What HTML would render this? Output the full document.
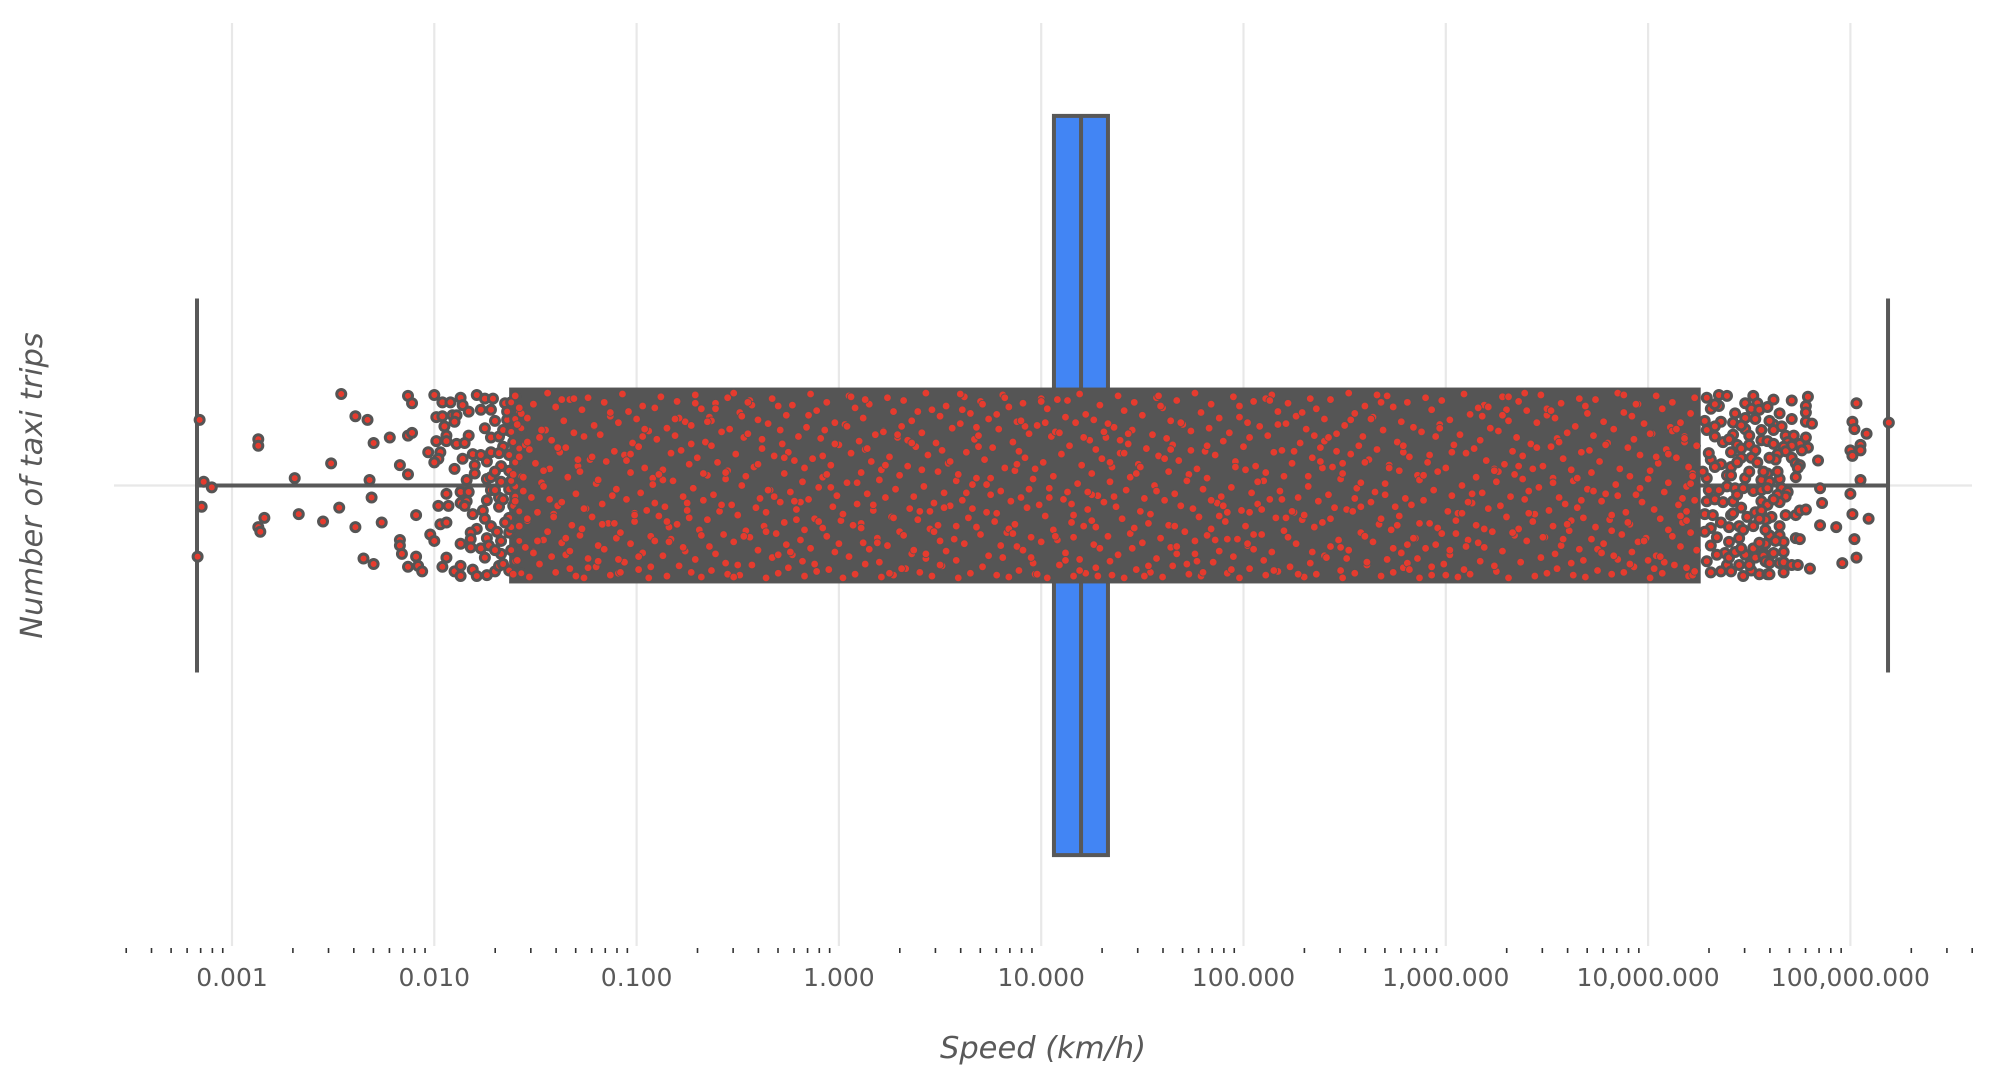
<!DOCTYPE html>
<html>
<head>
<meta charset="utf-8">
<title>Speed (km/h) box plot</title>
<style>
html,body{margin:0;padding:0;background:#fff;}
svg{display:block;}
text{font-family:"DejaVu Sans",sans-serif;fill:#595959;}
</style>
</head>
<body>
<svg id="chart" xmlns="http://www.w3.org/2000/svg" width="1996" height="1084" viewBox="0 0 1996 1084">
<rect x="0" y="0" width="1996" height="1084" fill="#ffffff"/>
<g id="grid"></g>
<g id="box"></g>
<g id="strip"></g>
<g id="axis"></g>
<text x="1043" y="1058" font-size="30.5" font-style="italic" text-anchor="middle">Speed (km/h)</text>
<text transform="translate(42,485.5) rotate(-90)" font-size="30.5" font-style="italic" text-anchor="middle">Number of taxi trips</text>
</svg>
<script>
const tickExponents = [-3,-2,-1,0,1,2,3,4,5];
const tickLabels = ["0.001","0.010","0.100","1.000","10.000","100.000","1,000.000","10,000.000","100,000.000"];
const minorMultipliers = [2,3,4,5,6,7,8,9];
const axisLimitsLog10 = [-3.53,5.61];

const whiskerLowLog10 = [-3.173];
const q1Log10 = [1.063];
const medianLog10 = [1.197];
const q3Log10 = [1.33];
const whiskerHighLog10 = [5.186];

const denseExtentLog10 = [-1.63,4.26];
const denseExtentJitter = [-106,106];

const tailSpeedLog10 = [
-3.16,-3.14,-3.10,-3.15,-3.17,-2.87,-2.87,-2.84,-2.87,-2.86,-2.69,-2.67,-2.55,-2.51,-2.47,-2.39,-2.35,-2.46,-2.39,-2.33,
-2.30,-2.32,-2.31,-2.30,-2.13,-2.11,-2.22,-2.13,-2.11,-2.17,-2.13,-2.09,-2.26,-2.17,-2.17,-2.16,-2.09,-2.13,-2.08,-2.06,
-2.00,-1.96,-1.92,-1.87,-1.86,-1.83,-1.77,-1.79,-1.75,-1.71,-1.72,-1.99,-1.96,-1.91,-1.89,-1.90,-1.95,-1.75,-1.94,-1.94,
-1.99,-1.83,-1.89,-1.85,-2.03,-1.97,-1.98,-2.00,-1.90,-1.86,-1.81,-1.77,-1.74,-1.72,-1.72,-1.68,-1.80,-1.80,-1.84,-1.74,
-1.72,-1.67,-1.67,-1.63,-1.94,-1.87,-1.83,-1.72,-1.98,-1.93,-1.87,-1.84,-1.85,-1.74,-1.76,-1.81,-1.75,-1.68,-1.68,-1.97,
-1.94,-2.02,-2.00,-1.87,-1.79,-1.82,-1.82,-1.82,-1.77,-1.74,-1.73,-1.72,-1.69,-1.75,-1.94,-1.96,-1.90,-1.87,-1.87,-1.81,
-1.79,-1.74,-1.70,-1.67,-1.68,-1.63,-1.67,-1.63,-1.63,-1.61,-1.63,-1.60,-1.64,-1.65,-1.64,-1.66,-1.63,-1.61,-1.64,-1.60,
4.35,4.39,4.29,4.52,4.48,4.54,4.35,4.31,4.43,4.51,4.55,4.48,4.53,4.36,4.33,4.29,4.48,4.42,4.50,4.37,
4.33,4.56,4.44,4.50,4.53,4.46,4.41,4.46,4.51,4.54,4.31,4.36,4.33,4.41,4.39,4.41,4.29,4.48,4.56,4.39,
4.43,4.52,4.47,4.56,4.29,4.33,4.37,4.42,4.46,4.56,4.53,4.28,4.32,4.41,4.49,4.59,4.36,4.45,4.52,4.31,
4.34,4.40,4.45,4.31,4.58,4.38,4.52,4.48,4.53,4.57,4.31,4.39,4.45,4.36,4.41,4.47,4.55,4.51,4.59,4.59,
4.62,4.59,4.71,4.79,4.78,4.78,4.78,4.81,5.03,5.01,5.02,5.08,5.19,4.65,4.71,4.62,4.66,4.62,4.68,4.72,
4.59,4.69,4.75,4.78,4.71,4.67,4.79,4.76,4.68,4.64,4.63,4.71,4.73,4.75,4.74,4.84,5.00,5.05,5.05,5.01,
4.73,5.05,4.85,5.00,4.86,4.59,4.65,4.60,4.59,4.66,4.69,4.68,4.64,4.65,4.59,4.56,4.61,4.58,4.68,4.73,
4.75,4.78,4.65,4.60,4.65,4.67,4.58,4.73,4.75,4.67,4.62,4.57,4.58,4.65,4.67,4.71,4.74,4.60,4.67,4.80,
4.85,4.93,5.01,5.09,5.02,5.03,4.96,
-1.70,-1.66,-1.70,-1.62,-1.68,-1.60,-1.62,-1.58,-1.58,-1.57,-1.70,-1.66,-1.60,-1.58,-1.62,-1.65,-1.70,-1.66,-1.62,-1.58,-1.60,-1.57,-1.60,-1.62,-1.57,
4.28,4.30,4.27,4.30,4.28,4.33,4.29,4.34,4.35,4.42,4.40,4.46,4.44,4.50,4.44,4.40,4.42,4.47,4.40,4.43,4.46,4.50,4.55,4.60,4.60,4.57,4.62,4.58,4.55,4.62,4.63,4.60,4.56,4.64
];
const tailJitter = [
-71,-4,2,23,77,-50,-43,35,45,50,-8,31,39,-24,24,45,79,-99,-75,-71,
-46,-6,13,85,-97,-89,-52,-54,-57,-22,-12,32,40,59,65,74,77,88,87,93,
-98,-90,-90,-95,-87,-80,-82,-98,-94,-94,-82,-74,-75,-76,-76,-69,-64,-62,-54,-48,
-48,-54,-45,-46,-36,-36,-29,-25,-18,-29,-34,-33,-26,-36,-52,-53,-22,-13,-6,-7,
-9,-21,-4,-16,9,7,7,5,22,22,19,17,22,16,27,31,36,13,23,42,
40,53,60,63,47,51,58,67,68,57,65,44,50,78,78,88,93,87,98,91,
98,97,93,74,87,92,60,51,35,22,4,1,-71,-89,-80,-42,-33,-47,-60,-96,
-98,-97,-95,-97,-89,-89,-86,-83,-78,-83,-82,-73,-72,-69,-64,-60,-61,-55,-54,-47,
-53,-49,-44,-44,-38,-40,-36,-30,-30,-25,-28,-23,-20,-20,-11,-11,-8,-8,-6,1,
3,6,3,5,17,15,18,17,24,17,29,31,32,32,34,36,40,44,44,46,
56,61,57,65,63,73,68,75,78,73,94,86,86,93,93,98,96,92,96,83,
-93,-85,-92,-96,-86,-79,-69,-67,-89,-69,-61,-56,-68,-78,-72,-66,-64,-60,-54,-54,
-48,-47,-45,-52,-43,-42,-41,-38,-37,-34,-28,-30,-24,-22,-19,-27,-38,-44,-38,-32,
-9,-6,3,9,19,-13,-7,-4,3,3,7,12,10,18,21,27,34,37,32,32,
27,26,44,54,54,61,63,57,58,72,73,76,82,84,83,86,86,96,94,90,
43,45,31,36,58,78,84,
-70,-60,-15,-58,-35,-25,-5,-80,-40,-10,5,15,12,28,45,40,70,85,70,60,82,95,-72,-90,-62,
-70,-35,-15,5,50,-88,82,75,5,-68,-50,-65,-25,-15,10,45,30,48,78,72,68,86,62,-70,-30,-15,-45,48,36,15,60,84,-60,-15
];

const denseSpeedLog10 = [
-1.60,-1.57,-1.59,-1.55,-1.58,-1.61,-1.56,-1.60,-1.54,-1.58,-1.55,-1.59,-1.61,
-1.51,-1.54,-1.48,-1.53,-1.50,-1.47,-1.52,-1.49,-1.54,-1.46,-1.51,-1.48,-1.53,
-1.44,-1.40,-1.45,-1.42,-1.38,-1.43,-1.46,-1.39,-1.41,-1.44,-1.37,-1.42,-1.40,
-1.33,-1.36,-1.31,-1.35,-1.29,-1.34,-1.30,-1.37,-1.32,-1.28,-1.35,-1.33,-1.30,
-1.24,-1.27,-1.21,-1.26,-1.23,-1.28,-1.20,-1.25,-1.22,-1.27,-1.19,-1.24,-1.26,
-1.16,-1.13,-1.18,-1.11,-1.15,-1.19,-1.12,-1.17,-1.14,-1.10,-1.16,-1.20,-1.13,
-1.07,-1.04,-1.09,-1.02,-1.06,-1.03,-1.10,-1.05,-1.01,-1.08,-1.03,-1.06,-1.09,
-.97,-1.00,-.94,-.99,-.96,-.92,-.98,-.95,-1.01,-.93,-.97,-.99,-.94,
-.88,-.91,-.85,-.90,-.83,-.87,-.92,-.86,-.89,-.84,-.91,-.87,-.85,
-.80,-.76,-.81,-.78,-.74,-.82,-.77,-.75,-.80,-.83,-.76,-.79,-.73,
-.71,-.68,-.73,-.66,-.70,-.65,-.72,-.67,-.74,-.69,-.64,-.71,-.68,
-.61,-.64,-.58,-.63,-.60,-.56,-.62,-.59,-.65,-.57,-.61,-.63,-.55,
-.52,-.49,-.54,-.47,-.51,-.55,-.48,-.53,-.50,-.46,-.52,-.56,-.49,
-.44,-.40,-.45,-.38,-.42,-.46,-.39,-.41,-.37,-.44,-.40,-.43,-.36,
-.33,-.30,-.35,-.28,-.32,-.27,-.34,-.29,-.36,-.31,-.26,-.33,-.30,
-.23,-.26,-.20,-.25,-.22,-.18,-.24,-.21,-.27,-.19,-.23,-.25,-.17,
-.14,-.11,-.16,-.09,-.13,-.17,-.10,-.15,-.12,-.08,-.14,-.18,-.11,
-.06,-.02,-.07,0,-.04,-.08,-.01,-.03,.01,-.06,-.02,-.05,.02,
.05,.08,.03,.10,.06,.11,.04,.09,.02,.07,.12,.05,.08,
.15,.12,.18,.13,.16,.20,.14,.17,.11,.19,.15,.13,.21,
.24,.27,.22,.29,.25,.21,.28,.23,.26,.30,.24,.20,.27,
.32,.36,.31,.38,.34,.30,.37,.35,.39,.32,.36,.33,.40,
.43,.46,.41,.48,.44,.49,.42,.47,.40,.45,.50,.43,.46,
.53,.50,.56,.51,.54,.58,.52,.55,.49,.57,.53,.51,.59,
.62,.65,.60,.67,.63,.59,.66,.61,.64,.68,.62,.58,.65,
.70,.74,.69,.76,.72,.68,.75,.73,.77,.70,.74,.71,.78,
.81,.84,.79,.86,.82,.87,.80,.85,.78,.83,.88,.81,.84,
.91,.88,.94,.89,.92,.96,.90,.93,.87,.95,.91,.89,.97,
1.00,1.03,.98,1.05,1.01,.97,1.04,.99,1.02,1.06,1.00,.96,1.03,
1.08,1.12,1.07,1.14,1.10,1.06,1.13,1.11,1.15,1.08,1.12,1.09,1.16,
1.19,1.22,1.17,1.24,1.20,1.25,1.18,1.23,1.16,1.21,1.26,1.19,1.22,
1.29,1.26,1.32,1.27,1.30,1.34,1.28,1.31,1.25,1.33,1.29,1.27,1.35,
1.38,1.41,1.36,1.43,1.39,1.35,1.42,1.37,1.40,1.44,1.38,1.34,1.41,
1.46,1.50,1.45,1.52,1.48,1.44,1.51,1.49,1.53,1.46,1.50,1.47,1.54,
1.57,1.60,1.55,1.62,1.58,1.63,1.56,1.61,1.54,1.59,1.64,1.57,1.60,
1.67,1.64,1.70,1.65,1.68,1.72,1.66,1.69,1.63,1.71,1.67,1.65,1.73,
1.76,1.79,1.74,1.81,1.77,1.73,1.80,1.75,1.78,1.82,1.76,1.72,1.79,
1.84,1.88,1.83,1.90,1.86,1.82,1.89,1.87,1.91,1.84,1.88,1.85,1.92,
1.95,1.98,1.93,2.00,1.96,2.01,1.94,1.99,1.92,1.97,2.02,1.95,1.98,
2.05,2.02,2.08,2.03,2.06,2.10,2.04,2.07,2.01,2.09,2.05,2.03,2.11,
2.14,2.17,2.12,2.19,2.15,2.11,2.18,2.13,2.16,2.20,2.14,2.10,2.17,
2.22,2.26,2.21,2.28,2.24,2.20,2.27,2.25,2.29,2.22,2.26,2.23,2.30,
2.33,2.36,2.31,2.38,2.34,2.39,2.32,2.37,2.30,2.35,2.40,2.33,2.36,
2.43,2.40,2.46,2.41,2.44,2.48,2.42,2.45,2.39,2.47,2.43,2.41,2.49,
2.52,2.55,2.50,2.57,2.53,2.49,2.56,2.51,2.54,2.58,2.52,2.48,2.55,
2.60,2.64,2.59,2.66,2.62,2.58,2.65,2.63,2.67,2.60,2.64,2.61,2.68,
2.71,2.74,2.69,2.76,2.72,2.77,2.70,2.75,2.68,2.73,2.78,2.71,2.74,
2.81,2.78,2.84,2.79,2.82,2.86,2.80,2.83,2.77,2.85,2.81,2.79,2.87,
2.90,2.93,2.88,2.95,2.91,2.87,2.94,2.89,2.92,2.96,2.90,2.86,2.93,
2.98,3.02,2.97,3.04,3.00,2.96,3.03,3.01,3.05,2.98,3.02,2.99,3.06,
3.09,3.12,3.07,3.14,3.10,3.15,3.08,3.13,3.06,3.11,3.16,3.09,3.12,
3.19,3.16,3.22,3.17,3.20,3.24,3.18,3.21,3.15,3.23,3.19,3.17,3.25,
3.28,3.31,3.26,3.33,3.29,3.25,3.32,3.27,3.30,3.34,3.28,3.24,3.31,
3.36,3.40,3.35,3.42,3.38,3.34,3.41,3.39,3.43,3.36,3.40,3.37,3.44,
3.47,3.50,3.45,3.52,3.48,3.53,3.46,3.51,3.44,3.49,3.54,3.47,3.50,
3.57,3.54,3.60,3.55,3.58,3.62,3.56,3.59,3.53,3.61,3.57,3.55,3.63,
3.66,3.69,3.64,3.71,3.67,3.63,3.70,3.65,3.68,3.72,3.66,3.62,3.69,
3.74,3.78,3.73,3.80,3.76,3.72,3.79,3.77,3.81,3.74,3.78,3.75,3.82,
3.85,3.88,3.83,3.90,3.86,3.91,3.84,3.89,3.82,3.87,3.92,3.85,3.88,
3.95,3.92,3.98,3.93,3.96,4.00,3.94,3.97,3.91,3.99,3.95,3.93,4.01,
4.04,4.07,4.02,4.09,4.05,4.01,4.08,4.03,4.06,4.10,4.04,4.00,4.07,
4.12,4.16,4.11,4.18,4.14,4.10,4.17,4.15,4.19,4.12,4.16,4.13,4.20,
4.23,4.21,4.18,4.24,4.20,4.22,4.19,4.23,4.17,4.21,4.24,4.19,4.22
];
const denseJitter = [
-97,-78,-66,-44,-31,-12,6,17,38,44,67,81,96,
-88,-73,-52,-39,-24,-3,13,29,36,59,72,85,99,
-100,-85,-60,-49,-36,-18,1,22,31,50,62,77,94,
-93,-70,-57,-41,-21,-9,9,18,43,54,75,90,98,
-95,-82,-64,-53,-28,-15,-2,25,34,47,65,79,100,
-90,-75,-55,-37,-26,-6,11,20,41,57,69,88,97,
-99,-80,-68,-46,-33,-14,4,15,30,51,63,83,95,
-86,-72,-59,-42,-19,-8,8,27,39,55,73,91,100,
-96,-84,-62,-50,-35,-17,-1,23,33,45,60,76,98,
-91,-69,-54,-38,-23,-5,12,19,42,58,71,87,94,
-98,-83,-65,-47,-30,-11,3,16,35,48,66,80,99,
-89,-74,-58,-43,-25,-7,10,28,37,53,74,92,96,
-100,-79,-61,-52,-34,-16,0,21,32,49,61,84,97,
-92,-71,-56,-40,-20,-10,14,24,44,56,70,86,100,
-94,-86,-67,-45,-32,-13,5,18,29,52,64,78,95,
-87,-76,-53,-36,-27,-4,7,26,40,59,75,89,98,
-99,-81,-63,-51,-29,-19,2,15,36,46,68,82,93,
-90,-68,-60,-44,-22,-9,11,23,38,55,72,91,100,
-97,-84,-66,-48,-35,-14,-3,20,31,43,62,77,96,
-88,-73,-55,-39,-26,-6,9,27,41,57,69,85,99,
-95,-80,-59,-52,-31,-17,4,13,34,50,65,83,97,
-92,-70,-64,-42,-21,-11,12,25,37,54,74,90,94,
-100,-82,-57,-46,-33,-15,1,19,28,47,60,79,98,
-86,-75,-62,-38,-24,-5,8,22,43,58,71,87,100,
-96,-78,-67,-50,-36,-12,-1,16,35,45,63,81,95,
-91,-72,-54,-41,-28,-8,10,29,39,53,76,88,97,
-98,-85,-61,-47,-19,-16,6,17,30,51,66,78,99,
-89,-69,-56,-37,-30,-7,13,24,42,56,70,92,96,
-94,-83,-65,-53,-25,-18,3,21,33,48,61,84,100,
-93,-74,-58,-43,-34,-10,7,15,40,59,73,86,98,
-99,-77,-68,-49,-22,-13,-2,26,32,44,64,80,95,
-87,-71,-52,-39,-29,-4,11,18,38,55,68,89,97,
-97,-81,-63,-45,-35,-20,5,23,36,52,75,82,100,
-90,-76,-60,-40,-23,-9,14,28,41,46,62,91,94,
-95,-84,-55,-51,-32,-15,0,16,31,57,67,79,99,
-92,-70,-66,-44,-27,-6,9,22,43,50,74,87,96,
-100,-79,-59,-37,-18,-12,4,25,34,54,60,85,98,
-88,-73,-62,-48,-33,-8,12,19,39,47,71,83,95,
-96,-86,-57,-42,-26,-17,2,27,29,58,65,77,100,
-91,-68,-64,-52,-21,-5,8,20,44,53,69,90,97,
-98,-80,-54,-38,-36,-14,6,15,35,49,72,81,93,
-89,-75,-67,-46,-24,-10,13,29,37,56,63,88,99,
-94,-83,-61,-41,-30,-19,1,17,32,45,76,84,96,
-93,-72,-56,-50,-20,-7,10,24,40,59,66,78,100,
-100,-78,-65,-43,-34,-13,3,26,28,51,70,92,95,
-86,-74,-53,-39,-28,-3,7,18,42,55,61,86,98,
-97,-85,-60,-47,-22,-16,-2,23,36,48,73,80,94,
-90,-69,-63,-36,-31,-11,14,21,33,57,64,89,100,
-95,-82,-58,-53,-25,-6,5,16,41,46,68,79,97,
-92,-71,-66,-44,-19,-15,11,28,38,52,75,85,99,
-99,-77,-55,-40,-35,-9,0,19,30,59,62,91,96,
-87,-84,-62,-49,-27,-18,8,25,43,50,67,82,93,
-96,-70,-59,-37,-23,-4,12,22,34,54,71,87,100,
-91,-81,-52,-45,-32,-12,6,15,39,47,60,83,98,
-98,-76,-68,-42,-21,-8,2,27,31,56,74,78,95,
-89,-73,-57,-51,-29,-17,13,20,44,49,65,90,97,
-94,-86,-64,-38,-36,-5,4,24,35,58,69,84,99,
-93,-69,-54,-46,-26,-14,9,17,37,45,63,92,96,
-100,-79,-61,-41,-18,-10,-1,29,32,53,72,80,94,
-88,-75,-67,-50,-33,-7,10,18,42,57,61,88,100,
-97,-83,-56,-39,-24,-16,7,26,36,48,76,81,95,
-90,-68,-63,-47,-30,-3,14,21,28,55,66,86,98,
-95,-78,-53,-43,-20,-13,1,16,40,51,70,89,97,
-92,-85,-60,-36,-34,-9,11,23,33,59,64,77,100
];

const overlapSpeedLog10 = [
-1.58,-1.11,-.67,-.24,.22,.66,1.13,1.57,2.02,2.46,2.93,3.36,3.82,
-1.54,-1.08,-.63,-.19,.27,.71,1.16,1.61,2.07,2.51,2.97,3.41,3.88,
-1.49,-1.03,-.58,-.15,.31,.75,1.21,1.66,2.11,2.55,3.02,3.45,3.91,
-1.46,-.99,-.55,-.10,.34,.80,1.25,1.69,2.15,2.60,3.05,3.50,3.96,
-1.41,-.96,-.50,-.06,.39,.84,1.28,1.74,2.19,2.63,3.10,3.53,4.01,
-1.37,-.91,-.47,-.02,.43,.88,1.33,1.77,2.24,2.68,3.13,3.58,4.04,
-1.33,-.87,-.43,.02,.47,.92,1.36,1.82,2.27,2.72,3.18,3.62,4.08,
-1.29,-.84,-.38,.06,.52,.95,1.41,1.86,2.32,2.76,3.21,3.67,4.12,
-1.24,-.79,-.35,.11,.55,1.00,1.45,1.90,2.35,2.81,3.26,3.70,4.16,
-1.21,-.75,-.30,.14,.60,1.04,1.49,1.94,2.40,2.84,3.30,3.75,4.21,
-1.17,-.71,-.27,.19,.63,1.09,1.53,1.98,2.43,2.89,3.33,3.79,4.23,
-1.13,-.68,-.22,.23,.68,1.12,1.58,2.03,2.48,2.92,3.38,3.83,4.18,
-1.56,-1.09,-.65,-.21,.25,.69,1.15,1.59,2.05,2.49,2.95,3.39,3.85,
-1.51,-1.05,-.61,-.17,.29,.73,1.19,1.64,2.09,2.53,3.00,3.43,3.90,
-1.47,-1.01,-.56,-.12,.36,.78,1.23,1.67,2.13,2.58,3.03,3.48,3.94,
-1.43,-.97,-.52,-.08,.37,.82,1.27,1.72,2.17,2.61,3.08,3.52,3.98,
-1.39,-.93,-.48,-.04,.41,.86,1.31,1.76,2.21,2.66,3.11,3.56,4.03,
-1.35,-.89,-.45,0,.45,.90,1.34,1.80,2.25,2.70,3.16,3.60,4.06,
-1.31,-.85,-.40,.04,.50,.94,1.39,1.84,2.29,2.74,3.19,3.65,4.10,
-1.26,-.81,-.36,.09,.53,.98,1.43,1.88,2.34,2.79,3.24,3.68,4.14,
-1.22,-.77,-.32,.13,.58,1.02,1.47,1.92,2.38,2.82,3.28,3.73,4.19,
-1.19,-.73,-.29,.17,.61,1.07,1.51,1.96,2.42,2.87,3.31,3.77,4.22
];
const overlapJitter = [
-84,41,-13,72,-58,25,-92,6,63,-37,88,-21,49,
-47,94,-70,18,35,-88,56,-29,-4,79,-62,30,-98,
60,-34,21,-76,90,-8,-52,44,-94,14,70,-41,85,
-16,77,-95,39,-49,65,10,-68,92,-25,52,-83,3,
34,-61,86,-12,-80,47,98,-38,15,-72,66,-3,-56,
-93,19,55,-45,74,-23,-67,82,28,-90,9,58,-31,
71,-6,-87,31,50,-64,12,-43,96,-19,-75,38,83,
-28,61,-50,-96,24,78,-35,59,-10,43,-85,16,-59,
89,-73,5,46,-26,-91,68,22,-54,84,-15,-78,33,
-65,27,75,-40,-99,13,-20,91,-48,57,-82,69,-2,
42,-89,-30,62,8,-57,87,-74,36,-11,51,-44,93,
-79,54,17,-22,-63,81,-97,29,67,-33,-7,76,-51,
-9,80,-69,37,95,-42,20,-86,53,-24,64,-100,11,
73,-27,-83,48,-55,-1,92,-39,26,-71,97,-18,40,
-60,32,-14,85,-46,-77,7,66,-92,23,-36,56,-88,
15,-53,99,-32,70,-95,45,-5,-66,83,30,-81,60,
-41,88,-75,2,-17,52,-58,74,35,-98,18,-47,90,
57,-12,-90,63,28,-70,-25,94,-37,10,-84,42,77,
-94,39,-23,-64,86,4,-49,16,-79,68,47,-8,-34,
25,-72,50,-3,-86,96,-56,33,72,-43,-16,81,-61,
-31,67,12,-93,44,-68,-13,58,-26,91,-76,6,38,
82,-45,-60,21,-82,55,98,-20,-52,41,-96,73,-10
];

const svgNS = "http://www.w3.org/2000/svg";
const plotX0 = 232, plotPerDecade = 202.3, plotCy = 485.5, plotPerCategory = 924;
const gridTop = 23, gridBottom = 946, gridLeft = 114, gridRight = 1972;
const inkColor = "#585858";
const xScale = function (log10Value) { return plotX0 + plotPerDecade * (log10Value + 3); };
const yScale = function (categoryOffset) { return plotCy + plotPerCategory * categoryOffset; };
const jitterScale = function (jitter) { return yScale(jitter / 1000); };

function makeShape(tag, parent, attrs) {
  const el = document.createElementNS(svgNS, tag);
  Object.keys(attrs).forEach(function (k) { el.setAttribute(k, attrs[k]); });
  parent.appendChild(el);
  return el;
}

const gridG = document.getElementById("grid");
const boxG = document.getElementById("box");
const stripG = document.getElementById("strip");
const axisG = document.getElementById("axis");

tickExponents.forEach(function (e) {
  const line = makeShape("line", gridG, {x1: xScale(e), x2: xScale(e), y1: gridTop, y2: gridBottom, stroke: "#e8e8e8", "stroke-width": 2.2});
  
  
});
const yGrid = makeShape("line", gridG, {x1: gridLeft, x2: gridRight, y1: plotCy, y2: plotCy, stroke: "#e8e8e8", "stroke-width": 2.2});



const boxHalf = 0.4, capHalf = 0.2024;
const boxRect = makeShape("rect", boxG, {
  x: xScale(q1Log10[0]), y: yScale(-boxHalf),
  width: xScale(q3Log10[0]) - xScale(q1Log10[0]), height: yScale(boxHalf) - yScale(-boxHalf),
  fill: "#4285f4", stroke: inkColor, "stroke-width": 4
});


const medianLine = makeShape("line", boxG, {x1: xScale(medianLog10[0]), x2: xScale(medianLog10[0]), y1: yScale(-boxHalf), y2: yScale(boxHalf), stroke: inkColor, "stroke-width": 4});


const whiskerLow = makeShape("line", boxG, {x1: xScale(whiskerLowLog10[0]), x2: xScale(q1Log10[0]), y1: plotCy, y2: plotCy, stroke: inkColor, "stroke-width": 4});


const whiskerHigh = makeShape("line", boxG, {x1: xScale(q3Log10[0]), x2: xScale(whiskerHighLog10[0]), y1: plotCy, y2: plotCy, stroke: inkColor, "stroke-width": 4});


const capLow = makeShape("line", boxG, {x1: xScale(whiskerLowLog10[0]), x2: xScale(whiskerLowLog10[0]), y1: yScale(-capHalf), y2: yScale(capHalf), stroke: inkColor, "stroke-width": 4});


const capHigh = makeShape("line", boxG, {x1: xScale(whiskerHighLog10[0]), x2: xScale(whiskerHighLog10[0]), y1: yScale(-capHalf), y2: yScale(capHalf), stroke: inkColor, "stroke-width": 4});



const band = makeShape("rect", stripG, {
  x: xScale(denseExtentLog10[0]), y: jitterScale(denseExtentJitter[0]),
  width: xScale(denseExtentLog10[1]) - xScale(denseExtentLog10[0]),
  height: jitterScale(denseExtentJitter[1]) - jitterScale(denseExtentJitter[0]),
  fill: "#555555"
});



function drawPoints(speeds, jitters, radius, strokeWidth) {
  const count = Math.min(speeds.length, jitters.length);
  for (let i = 0; i < count; i++) {
    const dot = document.createElementNS(svgNS, "circle");
    dot.setAttribute("cx", xScale(speeds[i]));
    dot.setAttribute("cy", jitterScale(jitters[i]));
    dot.setAttribute("r", radius);
    dot.setAttribute("fill", "#e63b2e");
    dot.setAttribute("stroke", "#555555");
    dot.setAttribute("stroke-width", strokeWidth);
    
    
    stripG.appendChild(dot);
  }
}
drawPoints(tailSpeedLog10, tailJitter, 4.5, 3);
drawPoints(denseSpeedLog10, denseJitter, 3.8, 0.8);
drawPoints(overlapSpeedLog10, overlapJitter, 3.8, 0.8);

tickExponents.forEach(function (e, i) {
  const t = makeShape("text", axisG, {x: xScale(e), y: 986, "font-size": 25, "text-anchor": "middle"});
  t.textContent = tickLabels[i];
  
  
});
for (let d = Math.floor(axisLimitsLog10[0]); d <= Math.floor(axisLimitsLog10[1]); d++) {
  minorMultipliers.forEach(function (m) {
    const v = d + Math.log10(m);
    if (v < axisLimitsLog10[0] || v > axisLimitsLog10[1]) return;
    const tick = makeShape("line", axisG, {x1: xScale(v), x2: xScale(v), y1: 948, y2: 953, stroke: "#333333", "stroke-width": 1.6});
    
    
  });
}
</script>
</body>
</html>
